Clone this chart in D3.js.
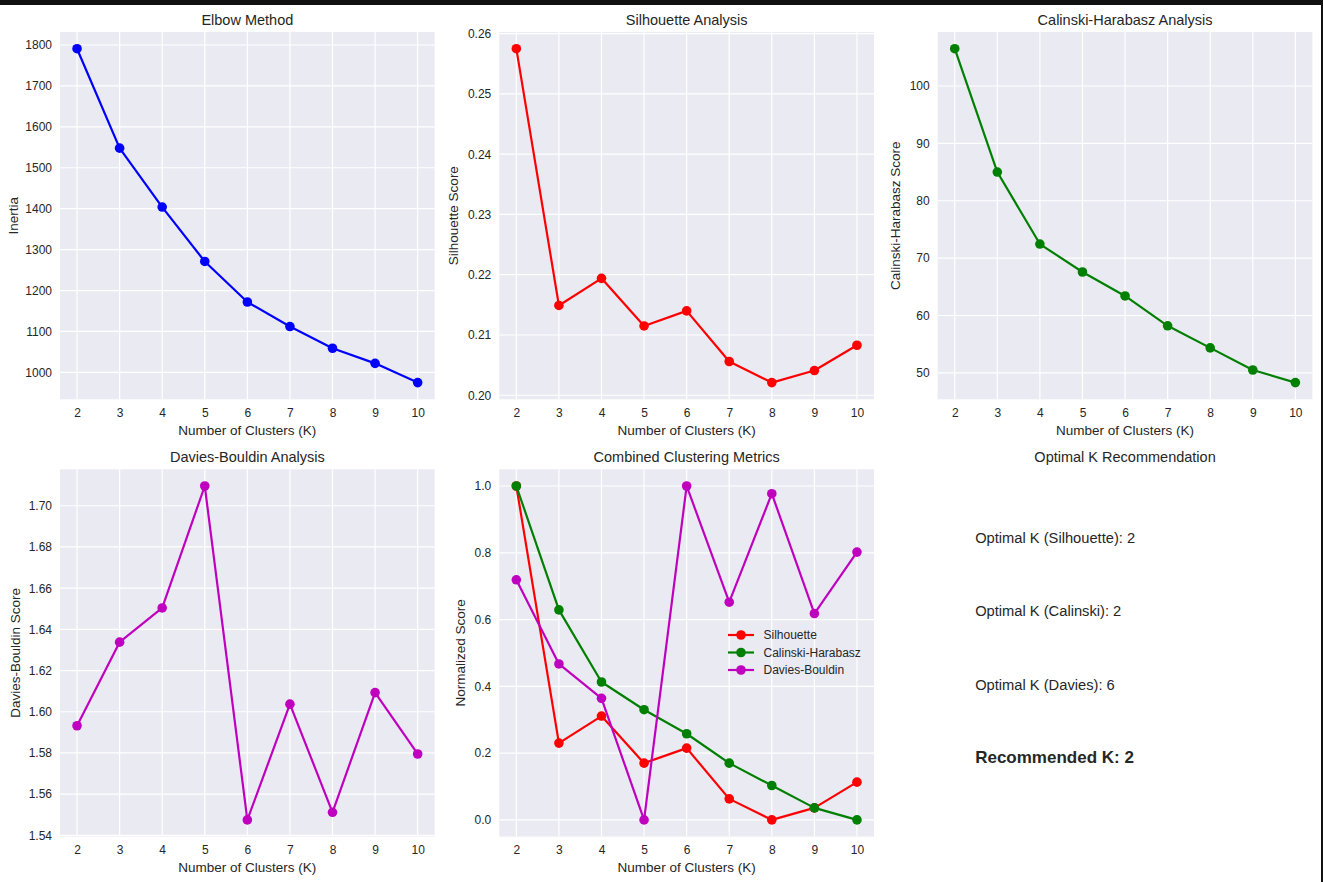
<!DOCTYPE html>
<html>
<head>
<meta charset="utf-8">
<script src="https://cdn.jsdelivr.net/npm/d3@7"></script>
<style>
  html, body { margin: 0; padding: 0; background: #fff; }
  svg { display: block; }
  text { font-family: "Liberation Sans", Arial, sans-serif; fill: #262626; }
</style>
</head>
<body>
<svg id="chart" width="1323" height="882"></svg>
<script>
// ---------- data ----------
const kValues = [2, 3, 4, 5, 6, 7, 8, 9, 10];
const inertia = [1791, 1548, 1404, 1271, 1172, 1112, 1059, 1022, 975];
const silhouette = [0.2575, 0.2149, 0.2194, 0.2115, 0.2140, 0.2056, 0.2021, 0.2041, 0.2083];
const calinski = [106.5, 85.0, 72.45, 67.58, 63.4, 58.2, 54.35, 50.5, 48.3];
const davies = [1.5932, 1.6338, 1.6504, 1.7096, 1.5475, 1.6037, 1.5512, 1.6093, 1.5795];
const silNorm = [1.0, 0.23, 0.311, 0.17, 0.215, 0.063, 0.0, 0.036, 0.113];
const chNorm = [1.0, 0.629, 0.413, 0.33, 0.258, 0.17, 0.103, 0.036, 0.0];
const dbNorm = [0.719, 0.467, 0.364, 0.0, 1.0, 0.652, 0.977, 0.618, 0.802];

const elbowTicks = [1000, 1100, 1200, 1300, 1400, 1500, 1600, 1700, 1800];
const silTicks = [0.20, 0.21, 0.22, 0.23, 0.24, 0.25, 0.26];
const chTicks = [50, 60, 70, 80, 90, 100];
const dbTicks = [1.54, 1.56, 1.58, 1.60, 1.62, 1.64, 1.66, 1.68, 1.70];
const normTicks = [0.0, 0.2, 0.4, 0.6, 0.8, 1.0];

const recLines = ["Optimal K (Silhouette): 2", "Optimal K (Calinski): 2", "Optimal K (Davies): 6"];
const recFinal = "Recommended K: 2";

// ---------- layout ----------
const svg = d3.select("#chart");
const colLeft = [60, 499.3, 937.7];
const rowTop = [32, 469.3];
const W = 374.7, H = 367.3;
const colors = { blue: "#0000ff", red: "#ff0000", green: "#008000", magenta: "#bf00bf" };

// frame bits from the screenshot
svg.append("rect").attr("x", 0).attr("y", 0).attr("width", 1323).attr("height", 5).attr("fill", "#111");
svg.append("rect").attr("x", 1321).attr("y", 0).attr("width", 2).attr("height", 882).attr("fill", "#111");

function panel(opts) {
  const x0 = colLeft[opts.col], y0 = rowTop[opts.row];
  const g = svg.append("g").attr("transform", `translate(${x0},${y0})`);
  const xs = d3.scaleLinear().domain([1.6, 10.4]).range([0, W]);
  const ext = d3.extent(opts.series.flatMap(s => s.values));
  const pad = (ext[1] - ext[0]) * 0.05;
  const ys = d3.scaleLinear().domain([ext[0] - pad, ext[1] + pad]).range([H, 0]);

  g.append("rect").attr("width", W).attr("height", H).attr("fill", "#eaeaf2");

  // grid
  g.append("g").selectAll("line").data(kValues).join("line")
    .attr("x1", d => xs(d)).attr("x2", d => xs(d)).attr("y1", 0).attr("y2", H)
    .attr("stroke", "#fff").attr("stroke-width", 1.2);
  g.append("g").selectAll("line").data(opts.ticks).join("line")
    .attr("x1", 0).attr("x2", W).attr("y1", d => ys(d)).attr("y2", d => ys(d))
    .attr("stroke", "#fff").attr("stroke-width", 1.2);

  // axes via d3 axis (ticks hidden, labels kept)
  const xAxis = g.append("g").attr("transform", `translate(0,${H})`)
    .call(d3.axisBottom(xs).tickValues(kValues).tickFormat(d3.format("d")).tickSize(0).tickPadding(9));
  const yAxis = g.append("g")
    .call(d3.axisLeft(ys).tickValues(opts.ticks).tickFormat(d3.format(opts.fmt)).tickSize(0).tickPadding(8));
  [xAxis, yAxis].forEach(a => {
    a.select(".domain").remove();
    a.selectAll("text").attr("font-size", 12).attr("fill", "#262626")
      .style("font-family", '"Liberation Sans", Arial, sans-serif');
  });

  // lines + markers
  const line = d3.line().x((d, i) => xs(kValues[i])).y(d => ys(d));
  opts.series.forEach(s => {
    g.append("path").datum(s.values).attr("d", line).attr("fill", "none")
      .attr("stroke", s.color).attr("stroke-width", 2.2).attr("stroke-linejoin", "round");
    g.append("g").selectAll("circle").data(s.values).join("circle")
      .attr("cx", (d, i) => xs(kValues[i])).attr("cy", d => ys(d)).attr("r", 4.8)
      .attr("fill", s.color);
  });

  // labels
  g.append("text").attr("x", W / 2).attr("y", -12).attr("text-anchor", "middle")
    .attr("dominant-baseline", "central").attr("font-size", 14.5).text(opts.title);
  g.append("text").attr("x", W / 2).attr("y", H + 31).attr("text-anchor", "middle")
    .attr("dominant-baseline", "central").attr("font-size", 13.5).text("Number of Clusters (K)");
  g.append("text").attr("transform", `translate(${-opts.ylabOff},${H / 2}) rotate(-90)`)
    .attr("text-anchor", "middle").attr("dominant-baseline", "central")
    .attr("font-size", 13.5).text(opts.ylabel);

  if (opts.legend) {
    const lg = g.append("g").attr("transform", `translate(${728 - x0},${635 - y0})`);
    opts.series.forEach((s, i) => {
      const yy = i * 17.5;
      lg.append("line").attr("x1", 0).attr("x2", 26).attr("y1", yy).attr("y2", yy)
        .attr("stroke", s.color).attr("stroke-width", 2.2);
      lg.append("circle").attr("cx", 13).attr("cy", yy).attr("r", 4.8).attr("fill", s.color);
      lg.append("text").attr("x", 35.5).attr("y", yy).attr("dominant-baseline", "central")
        .attr("font-size", 12).text(s.name);
    });
  }
}

panel({ col: 0, row: 0, title: "Elbow Method", ylabel: "Inertia", ylabOff: 46.7,
  ticks: elbowTicks, fmt: "d", series: [{ values: inertia, color: colors.blue }] });
panel({ col: 1, row: 0, title: "Silhouette Analysis", ylabel: "Silhouette Score", ylabOff: 46,
  ticks: silTicks, fmt: ".2f", series: [{ values: silhouette, color: colors.red }] });
panel({ col: 2, row: 0, title: "Calinski-Harabasz Analysis", ylabel: "Calinski-Harabasz Score", ylabOff: 42,
  ticks: chTicks, fmt: "d", series: [{ values: calinski, color: colors.green }] });
panel({ col: 0, row: 1, title: "Davies-Bouldin Analysis", ylabel: "Davies-Bouldin Score", ylabOff: 44.3,
  ticks: dbTicks, fmt: ".2f", series: [{ values: davies, color: colors.magenta }] });
panel({ col: 1, row: 1, title: "Combined Clustering Metrics", ylabel: "Normalized Score", ylabOff: 38.6,
  ticks: normTicks, fmt: ".1f", legend: true,
  series: [
    { name: "Silhouette", values: silNorm, color: colors.red },
    { name: "Calinski-Harabasz", values: chNorm, color: colors.green },
    { name: "Davies-Bouldin", values: dbNorm, color: colors.magenta }
  ] });

// recommendation panel (axes off)
{
  const x0 = colLeft[2], y0 = rowTop[1];
  const g = svg.append("g").attr("transform", `translate(${x0},${y0})`);
  g.append("text").attr("x", W / 2).attr("y", -12).attr("text-anchor", "middle")
    .attr("dominant-baseline", "central").attr("font-size", 14.5).text("Optimal K Recommendation");
  const yPos = d3.scaleLinear().domain([0, 1]).range([H, 0]);
  const fr = [0.8, 0.6, 0.4];
  recLines.forEach((t, i) => {
    g.append("text").attr("x", W * 0.1).attr("y", yPos(fr[i])).attr("font-size", 14.7).text(t);
  });
  g.append("text").attr("x", W * 0.1).attr("y", yPos(0.2)).attr("font-size", 17)
    .attr("font-weight", "bold").text(recFinal);
}
</script>
</body>
</html>
